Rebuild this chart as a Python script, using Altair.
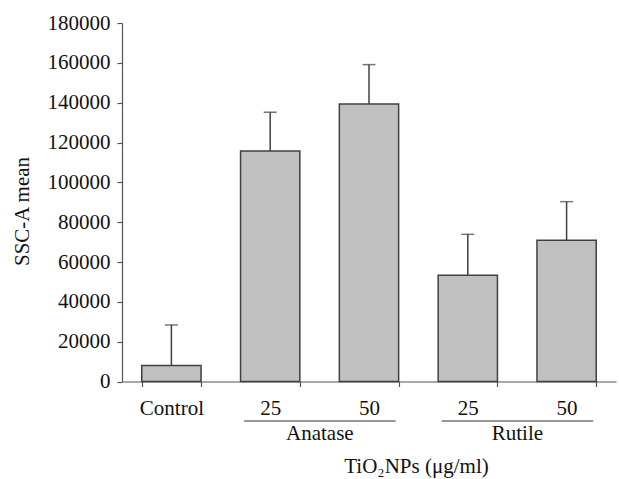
import altair as alt
import pandas as pd

categories = ["Control", "Anatase 25", "Anatase 50", "Rutile 25", "Rutile 50"]
tick_labels = ["Control", "25", "50", "25", "50"]
means = [8000, 115700, 139300, 53300, 70900]
errors = [20400, 19500, 19800, 20600, 19400]

groups = ["Anatase", "Rutile"]
group_start = ["Anatase 25", "Rutile 25"]
group_end = ["Anatase 50", "Rutile 50"]

y_ticks = [0, 20000, 40000, 60000, 80000, 100000, 120000, 140000, 160000, 180000]

df = pd.DataFrame({"cat": categories, "mean": means, "err": errors})
df["upper"] = df["mean"] + df["err"]
gdf = pd.DataFrame({"group": groups, "start": group_start, "end": group_end})

FONT = "Liberation Serif"
TXT = "#111111"
AX = "#555555"

label_map = "{" + ",".join(f"'{c}':'{l}'" for c, l in zip(categories, tick_labels)) + "}"

xscale = alt.Scale(domain=categories, paddingInner=0.4, paddingOuter=0.2)
yscale = alt.Scale(domain=[0, 180000], nice=False, zero=True)

x_axis = alt.Axis(
    title="TiO₂NPs (μg/ml)",
    labelExpr=f"{label_map}[datum.value]",
    labelAngle=0, labelOverlap=False,
    labelFont=FONT, labelFontSize=21, labelColor=TXT, labelPadding=11,
    labelBaseline="top",
    tickBand="extent", tickSize=5, tickColor=AX, domainColor=AX, tickWidth=1.2, domainWidth=1.2,
    titleFont=FONT, titleFontSize=21, titleFontWeight="normal", titleColor=TXT,
    titleX=294, titleY=91, titleBaseline="alphabetic", titleAnchor="start", titleAlign="center",
)
y_axis = alt.Axis(
    title="SSC-A mean",
    values=y_ticks, tickCount=10, format="d", grid=False, labelOverlap=False,
    labelFont=FONT, labelFontSize=21, labelColor=TXT, labelPadding=7,
    tickSize=5, tickColor=AX, domainColor=AX, tickWidth=1.2, domainWidth=1.2,
    titleFont=FONT, titleFontSize=21, titleFontWeight="normal", titleColor=TXT,
    titleX=-100, titleY=188, titleAngle=270, titleAlign="center", titleBaseline="middle",
)

base = alt.Chart(df)

err_rule = base.mark_rule(color="#404040", strokeWidth=1.5).encode(
    x=alt.X("cat:N", scale=xscale, sort=categories, axis=x_axis),
    y=alt.Y("mean:Q", scale=yscale, axis=y_axis),
    y2="upper:Q",
)
cap = base.mark_tick(color="#404040", thickness=1.5, size=13).encode(
    x=alt.X("cat:N", scale=xscale, sort=categories, axis=x_axis),
    y=alt.Y("upper:Q", scale=yscale, axis=y_axis),
)
bars = base.mark_bar(fill="#c0c0c0", stroke="#404040", strokeWidth=1.5).encode(
    x=alt.X("cat:N", scale=xscale, sort=categories, axis=x_axis),
    y=alt.Y("mean:Q", scale=yscale, axis=y_axis),
)

gbase = alt.Chart(gdf)
glines = gbase.mark_rule(color="#333333", strokeWidth=1.2, clip=False).encode(
    x=alt.X("start:N", scale=xscale, bandPosition=0.06, axis=x_axis),
    x2=alt.X2("end:N", bandPosition=0.95),
    y=alt.value(398),
)
gtext = gbase.mark_text(font=FONT, fontSize=21, color=TXT, baseline="alphabetic", align="center",
                        clip=False, dx=20).encode(
    x=alt.X("start:N", scale=xscale, bandPosition=1, axis=x_axis),
    y=alt.value(417),
    text="group:N",
)

chart = alt.layer(err_rule, cap, bars, glines, gtext).properties(
    width=494, height=358.5,
    background="white",
    autosize=alt.AutoSizeParams(type="none"),
    padding={"left": 122, "top": 23, "right": 3, "bottom": 97},
).configure_view(strokeWidth=0)

chart.save("out.html", embed_options={"renderer": "svg", "actions": False})
